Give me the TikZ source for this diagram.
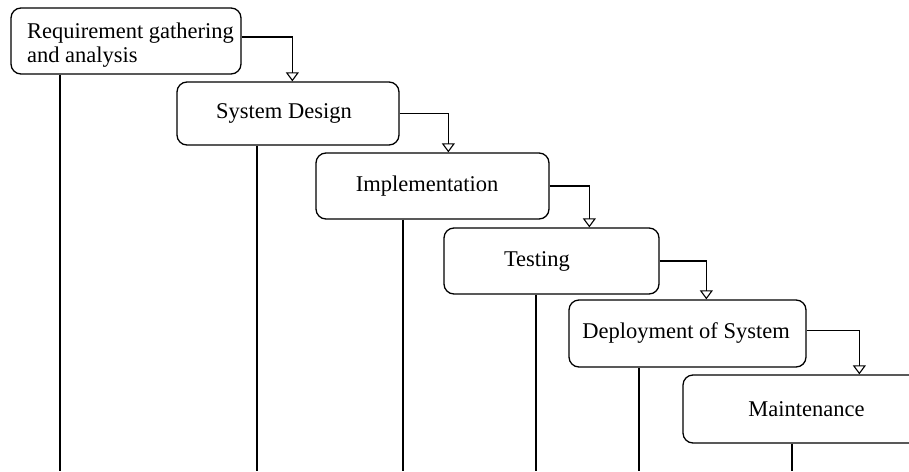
\documentclass[tikz,border=0pt]{standalone}
\usepackage{fontspec}
\setmainfont{Liberation Serif}
\usetikzlibrary{arrows.meta,calc}
\begin{document}
\begin{tikzpicture}[x=1pt,y=-1pt,
  box/.style={draw, line width=1.3pt, rounded corners=10pt, inner sep=0pt,
    font=\fontsize{22.5}{23.5}\selectfont},
  arr/.style={draw, line width=1.3pt, -{Triangle[open, width=13pt, length=9pt, line width=1.1pt]}},
  drop/.style={draw, line width=1.3pt}]
\useasboundingbox[fill=white] (0,0) rectangle (909,471);
\node[box, minimum width=230pt, minimum height=66pt, align=left] (b1) at (126,41)
  {\hspace*{9pt}\rule{0pt}{23.5pt}Requirement gathering\\\hspace*{9pt}and analysis};
\node[box, minimum width=222pt, minimum height=63pt] (b2) at (288,113.5) {\hspace*{-8pt}System Design};
\node[box, minimum width=233pt, minimum height=66pt] (b3) at (432.5,186) {\hspace*{-11pt}Implementation};
\node[box, minimum width=215pt, minimum height=66pt] (b4) at (551.5,261) {\hspace*{-29pt}Testing};
\node[box, minimum width=237pt, minimum height=67pt] (b5) at (687.5,333.5) {\hspace*{-3pt}Deployment of System};
\node[box, minimum width=247pt, minimum height=68pt] (b6) at (806.5,409) {Maintenance};
% bottom ends of the vertical lines
\coordinate (f1) at (60,471);
\coordinate (f2) at (257,471);
\coordinate (f3) at (403,471);
\coordinate (f4) at (536,471);
\coordinate (f5) at (639,471);
\coordinate (f6) at (792,471);
\draw[drop] (b1.south -| f1) -- (f1);
\draw[drop] (b2.south -| f2) -- (f2);
\draw[drop] (b3.south -| f3) -- (f3);
\draw[drop] (b4.south -| f4) -- (f4);
\draw[drop] (b5.south -| f5) -- (f5);
\draw[drop] (b6.south -| f6) -- (f6);
% connectors
\draw[arr] ($(b1.east)+(0,-4)$) -| ($(b2.north west)+(116,0)$);
\draw[arr] (b2.east) -| ($(b3.north west)+(133,0)$);
\draw[arr] (b3.east) -| ($(b4.north west)+(146,0)$);
\draw[arr] (b4.east) -| ($(b5.north west)+(138,0)$);
\draw[arr] ($(b5.east)+(0,-3)$) -| ($(b6.north west)+(177,0)$);
\end{tikzpicture}
\end{document}
